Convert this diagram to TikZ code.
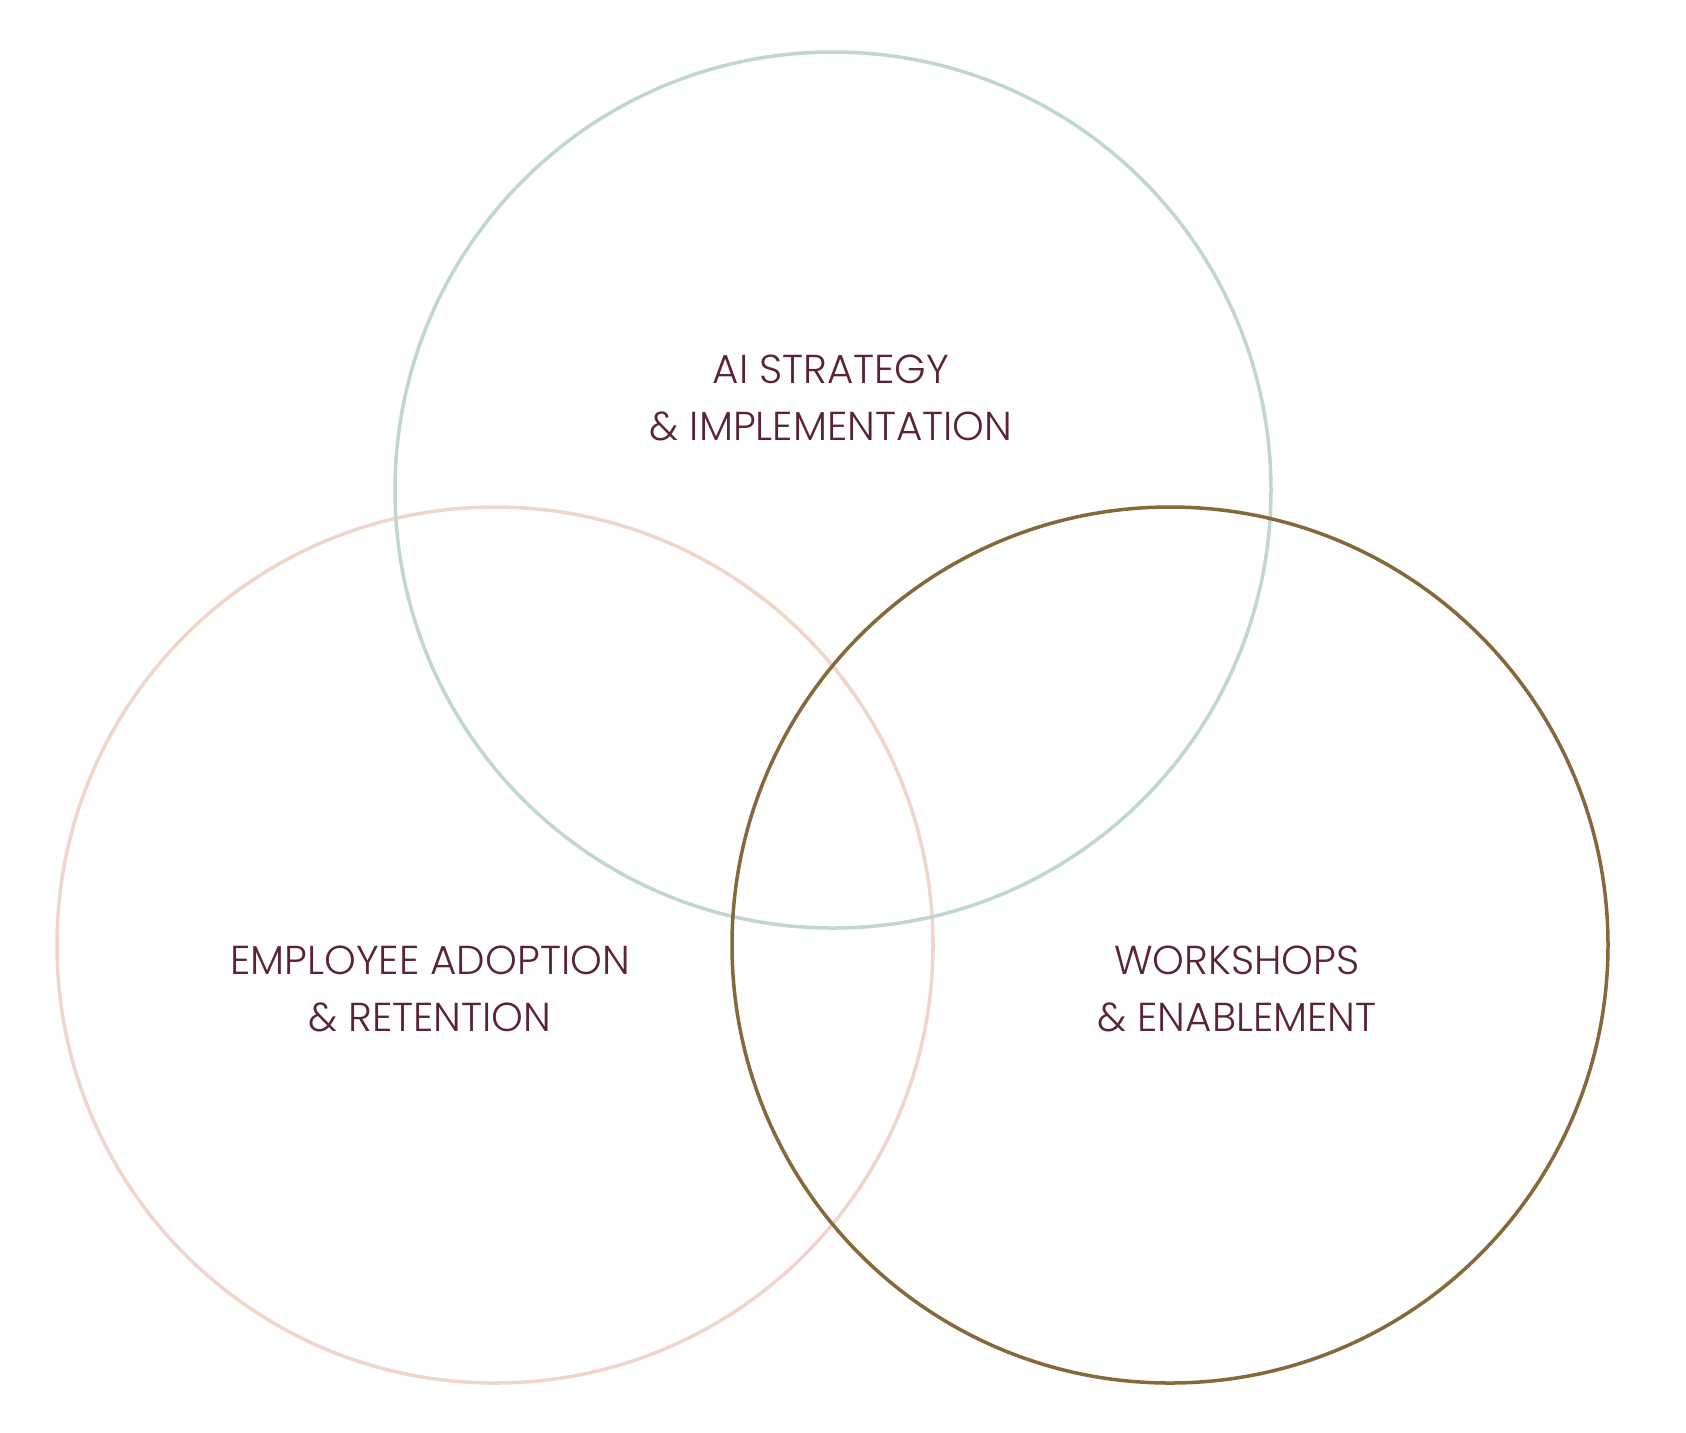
\documentclass[tikz,border=0pt]{standalone}
\usepackage{fontspec}
\setmainfont{Poppins}[UprightFont=* Light]

\definecolor{ringteal}{HTML}{BFD6D3}
\definecolor{ringrose}{HTML}{F0D5CC}
\definecolor{ringgold}{HTML}{86683A}
\definecolor{labelwine}{HTML}{5A2530}

\begin{document}
\begin{tikzpicture}[x=0.5pt,y=-0.5pt,
   ring/.style={draw,circle,line width=1.75pt,minimum size=438pt,inner sep=0pt},
   area label/.style={align=center,text=labelwine,font=\fontsize{20.2}{28.5}\selectfont}]

\useasboundingbox (0,0) rectangle (1686,1432);

\node[ring,draw=ringrose] (adoption) at (495,945) {};
\node[ring,draw=ringteal] (strategy) at (833,490) {};
\node[ring,draw=ringgold] (workshops) at (1170,945) {};

\node[area label] (strategy text) at (831,398) {AI STRATEGY\\ \& IMPLEMENTATION};
\node[area label] (adoption text) at (430,989) {EMPLOYEE ADOPTION\\ \& RETENTION};
\node[area label] (workshops text) at (1237,989) {WORKSHOPS\\ \& ENABLEMENT};

\end{tikzpicture}
\end{document}
